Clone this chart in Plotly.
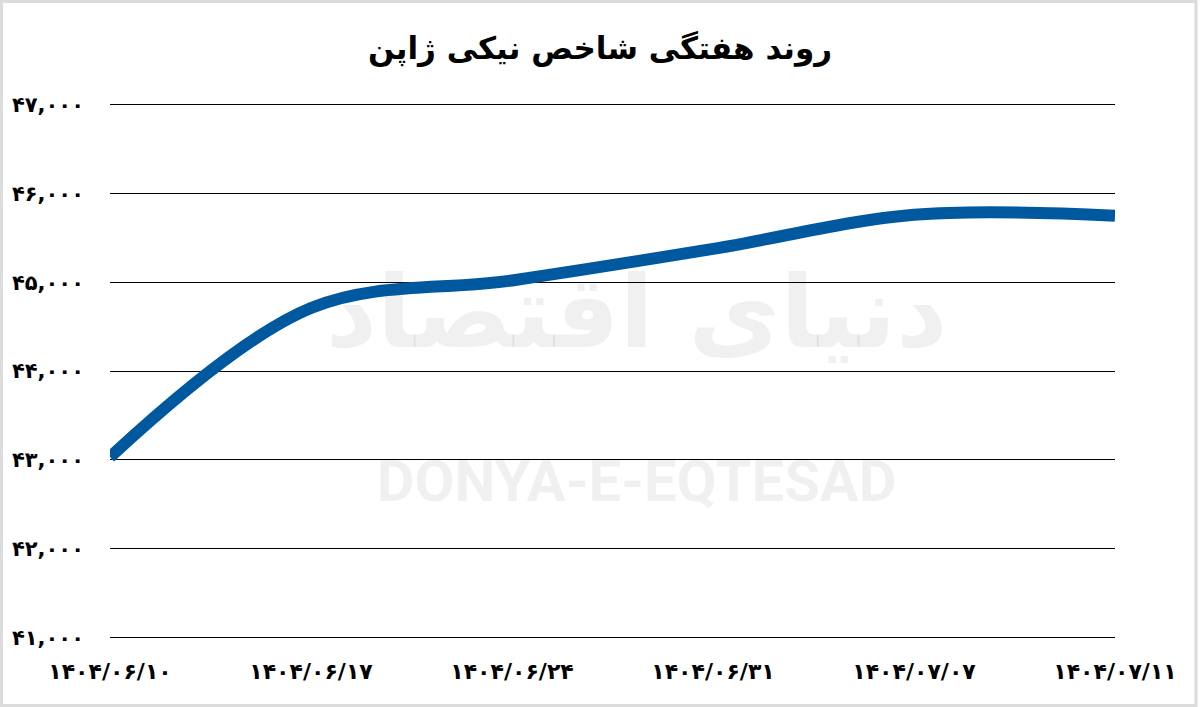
import plotly.graph_objects as go

title_text = "روند هفتگی شاخص نیکی ژاپن"
dates = ["۱۴۰۴/۰۶/۱۰", "۱۴۰۴/۰۶/۱۷", "۱۴۰۴/۰۶/۲۴", "۱۴۰۴/۰۶/۳۱", "۱۴۰۴/۰۷/۰۷", "۱۴۰۴/۰۷/۱۱"]
values = [43030, 44710, 45020, 45375, 45760, 45750]
y_ticks = [41000, 42000, 43000, 44000, 45000, 46000, 47000]
y_ticklabels = ["۴۱,۰۰۰", "۴۲,۰۰۰", "۴۳,۰۰۰", "۴۴,۰۰۰", "۴۵,۰۰۰", "۴۶,۰۰۰", "۴۷,۰۰۰"]

x_idx = list(range(len(dates)))
FONT = "DejaVu Sans"

fig = go.Figure()

# watermark (drawn in plot layer, below the data line)
fig.add_trace(go.Scatter(
    x=[2.62, 2.62], y=[44550, 42700], mode="text",
    text=["دنیای اقتصاد", "DONYA-E-EQTESAD"],
    textfont=dict(family=[FONT, "Roboto"], size=[100, 58], color="rgba(0,0,0,0.06)", weight="bold"),
    hoverinfo="skip", showlegend=False,
))

fig.add_trace(go.Scatter(
    x=x_idx, y=values, mode="lines",
    line=dict(color="#00599f", width=12, shape="spline", smoothing=1.0),
    showlegend=False,
))

fig.update_layout(
    width=1200, height=707,
    paper_bgcolor="white", plot_bgcolor="white",
    margin=dict(l=110, r=85, t=102, b=67),
    title=dict(text=title_text, x=0.5, xanchor="center", y=0.932, yanchor="middle",
               font=dict(family=FONT, size=31, color="black", weight="bold")),
    xaxis=dict(range=[0, 5], tickvals=x_idx, ticktext=dates, showgrid=False, zeroline=False,
               showline=False, ticks="", ticklabelstandoff=16, automargin=False,
               tickfont=dict(family=FONT, size=22, color="black", weight="bold")),
    yaxis=dict(range=[40970, 47030], tickvals=y_ticks, ticktext=y_ticklabels,
               showgrid=True, gridcolor="black", gridwidth=1, zeroline=False, showline=False,
               ticks="", ticklabelstandoff=25, automargin=False,
               tickfont=dict(family=FONT, size=21, color="black", weight="bold")),
    shapes=[dict(type="rect", xref="paper", yref="paper",
                 x0=-108.5/1005, x1=1086/1005, y0=-65.5/538, y1=(538+100.5)/538,
                 line=dict(color="#dcdcdc", width=3), fillcolor="rgba(0,0,0,0)", layer="below")],
)

fig.write_html("out.html", post_script="document.body.style.margin='0';",
               config={"displayModeBar": False})
